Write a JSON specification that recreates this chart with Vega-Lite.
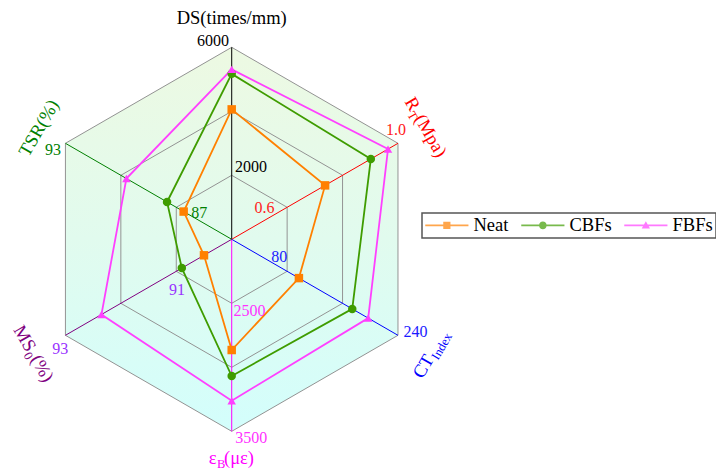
{
  "$schema": "https://vega.github.io/schema/vega-lite/v6.json",
  "width": 716,
  "height": 472,
  "autosize": {"type": "none"},
  "padding": 0,
  "background": "white",
  "config": {"view": {"stroke": null}, "font": "Liberation Serif", "text": {"font": "Liberation Serif"}, "legend": {"strokeWidth": 1.5}},
  "datasets": {
    "axes": [
      {"axis": "DS", "k": 0, "inner": 2000, "outer": 6000, "t1": "DS(times/mm)", "sub": "", "t2": ""},
      {"axis": "R_T", "k": 1, "inner": 0.6, "outer": 1.0, "t1": "R", "sub": "T", "t2": "(Mpa)"},
      {"axis": "CT", "k": 2, "inner": 80, "outer": 240, "t1": "CT", "sub": "Index", "t2": ""},
      {"axis": "εB", "k": 3, "inner": 2500, "outer": 3500, "t1": "ε", "sub": "B", "t2": "(με)"},
      {"axis": "MS0", "k": 4, "inner": 91, "outer": 93, "t1": "MS", "sub": "0", "t2": "(%)"},
      {"axis": "TSR", "k": 5, "inner": 87, "outer": 93, "t1": "TSR(%)", "sub": "", "t2": ""}
    ],
    "points": [
      {"series": "Neat", "axis": "DS", "value": 4060},
      {"series": "Neat", "axis": "R_T", "value": 0.737},
      {"series": "Neat", "axis": "CT", "value": 97},
      {"series": "Neat", "axis": "εB", "value": 2865},
      {"series": "Neat", "axis": "MS0", "value": 90.5},
      {"series": "Neat", "axis": "TSR", "value": 86.6},
      {"series": "CBFs", "axis": "DS", "value": 5170},
      {"series": "CBFs", "axis": "R_T", "value": 0.902},
      {"series": "CBFs", "axis": "CT", "value": 174},
      {"series": "CBFs", "axis": "εB", "value": 3068},
      {"series": "CBFs", "axis": "MS0", "value": 90.9},
      {"series": "CBFs", "axis": "TSR", "value": 87.5},
      {"series": "FBFs", "axis": "DS", "value": 5310},
      {"series": "FBFs", "axis": "R_T", "value": 0.964},
      {"series": "FBFs", "axis": "CT", "value": 197},
      {"series": "FBFs", "axis": "εB", "value": 3261},
      {"series": "FBFs", "axis": "MS0", "value": 92.35},
      {"series": "FBFs", "axis": "TSR", "value": 89.7}
    ]
  },
  "encoding": {
    "x": {"field": "x", "type": "quantitative", "scale": {"domain": [-1.2068, 2.5224], "nice": false, "zero": false}, "axis": null},
    "y": {"field": "y", "type": "quantitative", "scale": {"domain": [-1.212, 1.2464], "nice": false, "zero": false}, "axis": null}
  },
  "layer": [
    {
      "data": {"name": "axes"},
      "transform": [
        {"calculate": "(90-60*datum.k)*PI/180", "as": "a"},
        {"calculate": "round(cos(datum.a)*1000)/1000", "as": "x"},
        {"calculate": "sin(datum.a)", "as": "sy"},
        {"aggregate": [{"op": "max", "field": "sy", "as": "y"}, {"op": "min", "field": "sy", "as": "y2"}], "groupby": ["x"]}
      ],
      "mark": {
        "type": "area",
        "orient": "vertical",
        "interpolate": "linear",
        "color": {"gradient": "linear", "x1": 0, "y1": 0, "x2": 0, "y2": 1, "stops": [{"offset": 0, "color": "#edf9e2"}, {"offset": 0.5, "color": "#e1fbee"}, {"offset": 1, "color": "#d3fefc"}]}
      },
      "encoding": {"y2": {"field": "y2"}}
    },
    {
      "data": {"name": "axes"},
      "transform": [
        {"calculate": "(90-60*datum.k)*PI/180", "as": "a"},
        {"calculate": "[1,2,3]", "as": "lv"},
        {"flatten": ["lv"]},
        {"calculate": "datum.lv/3*cos(datum.a)", "as": "x"},
        {"calculate": "datum.lv/3*sin(datum.a)", "as": "y"}
      ],
      "mark": {"type": "line", "interpolate": "linear-closed", "color": "#939393", "strokeWidth": 1},
      "encoding": {"detail": {"field": "lv"}, "order": {"field": "k", "type": "quantitative"}}
    },
    {
      "data": {"name": "axes"},
      "transform": [
        {"calculate": "(90-60*datum.k)*PI/180", "as": "a"},
        {"calculate": "cos(datum.a)", "as": "x"},
        {"calculate": "sin(datum.a)", "as": "y"}
      ],
      "mark": {"type": "rule", "strokeWidth": 1},
      "encoding": {
        "x2": {"datum": 0},
        "y2": {"datum": 0},
        "color": {"condition": [
          {"test": "datum.axis==='R_T'", "value": "#ff0000"},
          {"test": "datum.axis==='CT'", "value": "#0000ff"},
          {"test": "datum.axis==='εB'", "value": "#ff00ff"},
          {"test": "datum.axis==='MS0'", "value": "#800080"},
          {"test": "datum.axis==='TSR'", "value": "#008000"}
        ], "value": "#000000"}
      }
    },
    {
      "data": {"name": "points"},
      "transform": [
        {"lookup": "axis", "from": {"data": {"name": "axes"}, "key": "axis", "fields": ["k", "inner", "outer"]}},
        {"calculate": "(90-60*datum.k)*PI/180", "as": "a"},
        {"calculate": "(datum.value-(datum.inner-(datum.outer-datum.inner)/2))/(1.5*(datum.outer-datum.inner))", "as": "f"},
        {"calculate": "datum.f*cos(datum.a)", "as": "x"},
        {"calculate": "datum.f*sin(datum.a)", "as": "y"}
      ],
      "mark": {"type": "line", "interpolate": "linear-closed", "strokeWidth": 1.8},
      "encoding": {
        "detail": {"field": "series"},
        "color": {"condition": [
          {"test": "datum.series==='Neat'", "value": "#ff8000"},
          {"test": "datum.series==='CBFs'", "value": "#3f9c00"}
        ], "value": "#ff40ff"},
        "order": {"field": "k", "type": "quantitative"}
      }
    },
    {
      "data": {"name": "points"},
      "transform": [
        {"lookup": "axis", "from": {"data": {"name": "axes"}, "key": "axis", "fields": ["k", "inner", "outer"]}},
        {"calculate": "(90-60*datum.k)*PI/180", "as": "a"},
        {"calculate": "(datum.value-(datum.inner-(datum.outer-datum.inner)/2))/(1.5*(datum.outer-datum.inner))", "as": "f"},
        {"calculate": "datum.f*cos(datum.a)", "as": "x"},
        {"calculate": "datum.f*sin(datum.a)", "as": "y"}
      ],
      "mark": {"type": "point", "filled": true, "opacity": 1, "size": 72},
      "encoding": {
        "color": {"condition": [
          {"test": "datum.series==='Neat'", "value": "#ff8000"},
          {"test": "datum.series==='CBFs'", "value": "#3f9c00"}
        ], "value": "#ff40ff"},
        "shape": {"condition": [
          {"test": "datum.series==='Neat'", "value": "square"},
          {"test": "datum.series==='CBFs'", "value": "circle"}
        ], "value": "triangle-up"}
      }
    },
    {
      "data": {"name": "points"},
      "transform": [
        {"calculate": "0", "as": "x"},
        {"calculate": "0", "as": "y"}
      ],
      "mark": {"type": "point", "filled": true, "size": 0},
      "encoding": {
        "color": {
          "field": "series", "type": "nominal",
          "scale": {"domain": ["Neat", "CBFs", "FBFs"], "range": ["#ff8000", "#3f9c00", "#ff40ff"]},
          "legend": {"orient": "none", "legendX": 422, "legendY": 213, "direction": "horizontal", "title": null, "labelFont": "Liberation Serif", "labelFontSize": 18.5, "labelColor": "#000000", "symbolSize": 324, "symbolStrokeWidth": 0, "strokeColor": "#555555", "padding": 3, "columnPadding": 12, "labelOffset": 30}
        },
        "shape": {
          "field": "series", "type": "nominal",
          "scale": {"domain": ["Neat", "CBFs", "FBFs"], "range": [
            "M-1,-0.1L3.8,-0.1L3.8,0.1L-1,0.1Z M1,-0.4L1.8,-0.4L1.8,0.4L1,0.4Z",
            "M-1,-0.1L3.8,-0.1L3.8,0.1L-1,0.1Z M1.82,0A0.42,0.42,0,1,1,0.98,0A0.42,0.42,0,1,1,1.82,0Z",
            "M-1,-0.1L3.8,-0.1L3.8,0.1L-1,0.1Z M1.4,-0.47L1.86,0.36L0.94,0.36Z"
          ]},
          "legend": {"orient": "none", "legendX": 422, "legendY": 213, "direction": "horizontal", "title": null, "labelFont": "Liberation Serif", "labelFontSize": 18.5, "labelColor": "#000000", "symbolSize": 324, "symbolStrokeWidth": 0, "strokeColor": "#555555", "padding": 3, "columnPadding": 12, "labelOffset": 30}
        }
      }
    },
    {
      "data": {"name": "axes"},
      "transform": [
        {"calculate": "(90-60*datum.k)*PI/180", "as": "a"},
        {"calculate": "[1.153,1.168,1.195,1.139,1.19,1.16][datum.k]", "as": "rc"},
        {"calculate": "[0,60,-60,0,60,-60][datum.k]", "as": "ta"},
        {"calculate": "[55,-20.8,-2.4,-15.2,-4.3,30.8][datum.k]", "as": "s"},
        {"calculate": "datum.rc*cos(datum.a)+datum.s*cos(datum.ta*PI/180)/192", "as": "x"},
        {"calculate": "datum.rc*sin(datum.a)-datum.s*sin(datum.ta*PI/180)/192", "as": "y"}
      ],
      "encoding": {
        "angle": {"field": "ta", "type": "quantitative", "scale": null},
        "color": {"condition": [
          {"test": "datum.axis==='R_T'", "value": "#ff0000"},
          {"test": "datum.axis==='CT'", "value": "#0000ff"},
          {"test": "datum.axis==='εB'", "value": "#ff00ff"},
          {"test": "datum.axis==='MS0'", "value": "#800080"},
          {"test": "datum.axis==='TSR'", "value": "#008000"}
        ], "value": "#000000"}
      },
      "layer": [
        {"mark": {"type": "text", "align": "right", "baseline": "middle", "fontSize": 18.5, "font": "Liberation Serif"}, "encoding": {"text": {"field": "t1"}}},
        {"mark": {"type": "text", "align": "left", "baseline": "middle", "fontSize": 12.5, "dx": 0.5, "dy": 6, "font": "Liberation Serif"}, "encoding": {"text": {"field": "sub"}}},
        {"mark": {"type": "text", "align": "left", "baseline": "middle", "fontSize": 18.5, "dx": 7.5, "font": "Liberation Serif"}, "encoding": {"text": {"field": "t2"}}}
      ]
    },
    {
      "data": {"name": "axes"},
      "transform": [
        {"calculate": "(90-60*datum.k)*PI/180", "as": "a"},
        {"calculate": "[1,3]", "as": "lv"},
        {"flatten": ["lv"]},
        {"calculate": "datum.lv==1 ? datum.inner : datum.outer", "as": "v"},
        {"calculate": "datum.axis==='R_T' ? format(datum.v,'.1f') : format(datum.v,'d')", "as": "lab"},
        {"calculate": "datum.lv==1 ? [19.3,-22.6,-7.9,17.8,0.7,22.9][datum.k] : [-18.7,-2,17.4,19.6,-5.3,-12.5][datum.k]", "as": "ox"},
        {"calculate": "datum.lv==1 ? [-8.6,0.7,-14.6,7.7,19,5.2][datum.k] : [-6.2,-13.3,-3.6,7.2,14.2,6.2][datum.k]", "as": "oy"},
        {"calculate": "datum.lv/3*cos(datum.a)+datum.ox/192", "as": "x"},
        {"calculate": "datum.lv/3*sin(datum.a)-datum.oy/192", "as": "y"}
      ],
      "mark": {"type": "text", "align": "center", "baseline": "middle", "fontSize": 16, "font": "Liberation Serif"},
      "encoding": {
        "text": {"field": "lab"},
        "color": {"condition": [
          {"test": "datum.axis==='R_T'", "value": "#ff1a1a"},
          {"test": "datum.axis==='CT'", "value": "#1a1aff"},
          {"test": "datum.axis==='εB'", "value": "#ff33ff"},
          {"test": "datum.axis==='MS0'", "value": "#9933ff"},
          {"test": "datum.axis==='TSR'", "value": "#008000"}
        ], "value": "#000000"}
      }
    }
  ]
}
